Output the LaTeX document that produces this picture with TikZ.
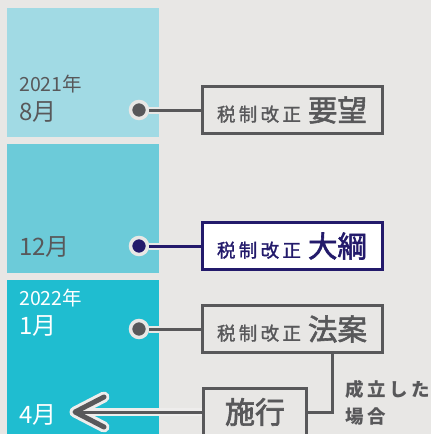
\documentclass[tikz,border=0pt]{standalone}
\usepackage{fontspec}
\setmainfont{Noto Sans CJK JP}
\definecolor{bg}{HTML}{E8E7E5}
\definecolor{halo}{HTML}{EEEDEC}
\definecolor{bandA}{HTML}{A1DAE4}
\definecolor{bandB}{HTML}{6CCBD9}
\definecolor{bandC}{HTML}{1FBDD0}
\definecolor{ink}{HTML}{58585A}
\definecolor{navy}{HTML}{231A6B}
\newcommand{\fs}[1]{\fontsize{#1}{#1}\selectfont}
\newcommand{\boxlabel}[2]{{\fs{18.5}\addfontfeature{LetterSpace=18,FakeBold=1.5}#1}\hspace{7pt}{\fs{29.5}\addfontfeature{FakeBold=2}#2}}
\tikzset{
  dotmark/.style={circle, fill=#1, draw=bg, line width=3.5pt, minimum size=17pt, inner sep=0pt},
  tbox/.style={draw=#1, line width=3pt, minimum width=180pt, minimum height=47pt, inner sep=0pt, text=#1},
  link/.style={draw=#1, line width=3pt, preaction={draw=bg, line width=7pt}},
  yeartxt/.style={anchor=base west, inner sep=0pt, font=\fs{19.5}},
  monthtxt/.style={anchor=base west, inner sep=0pt, font=\fs{24}},
  conn/.style={draw=ink, line width=3pt},
  note/.style={anchor=west, align=left, inner sep=0pt, text=ink, font=\fs{18.5}\bfseries\addfontfeature{LetterSpace=20}},
}
\begin{document}
\begin{tikzpicture}[x=1pt,y=-1pt]
\fill[bg] (0,0) rectangle (431,434);
\useasboundingbox (0,0) rectangle (431,434);
\begin{scope}
\clip (0,0) rectangle (431,434);
% bands
\fill[bandA] (7,8) rectangle (159,137);
\fill[bandB] (7,144) rectangle (159,273);
\fill[bandC] (7,280) rectangle (159,440);

% band texts
\node[yeartxt, text=ink] (y1) at (19,91) {2021年};
\node[monthtxt, text=ink] (m1) at (19,120) {8月};
\node[monthtxt, text=ink] (m2) at (19,255) {12月};
\node[yeartxt, text=white] (y2) at (19,305) {2022年};
\node[monthtxt, text=white] (m3) at (19,334) {1月};
\node[monthtxt, text=white] (m4) at (19,423) {4月};

% boxes
\node[tbox=ink, fill=bg] (b1) at (292,110) {\boxlabel{税制改正}{要望}};
\node[tbox=navy, fill=white] (b2) at (292,246) {\boxlabel{税制改正}{大綱}};
\node[tbox=ink, fill=bg] (b3) at (292,329) {\boxlabel{税制改正}{法案}};
\node[draw=ink, line width=3pt, fill=bg, minimum width=103pt, minimum height=47pt, inner sep=0pt, text=ink] (b4) at (255,412) {\fs{30}\addfontfeature{FakeBold=2.2}施行};

% dots
\node[dotmark=ink] (d1) at (139,110) {};
\node[dotmark=navy] (d2) at (139,246) {};
\node[dotmark=ink] (d3) at (139,329) {};

% links
\path[link=ink] (d1) -- (b1);
\path[link=navy] (d2) -- (b2);
\path[link=ink] (d3) -- (b3);

% connector to 施行
\coordinate (kx) at (332,0);
\draw[conn] (b3.south -| kx) |- (b4.east);
\node[note] (lbl) at (345,403) {成立した\\[8pt]場合};

% arrow
\coordinate (tip) at (75,412);
\coordinate (armA) at (104,397);
\coordinate (armB) at (104,427);
\draw[draw=halo, line width=8pt] (b4.west) -- (tip);
\draw[draw=halo, line width=11pt, line cap=round, line join=round] (armA) -- (tip) -- (armB);
\draw[draw=ink, line width=3pt] (b4.west) -- (tip);
\draw[draw=ink, line width=5pt, line cap=round, line join=round] (armA) -- (tip) -- (armB);
\end{scope}
\end{tikzpicture}
\end{document}
